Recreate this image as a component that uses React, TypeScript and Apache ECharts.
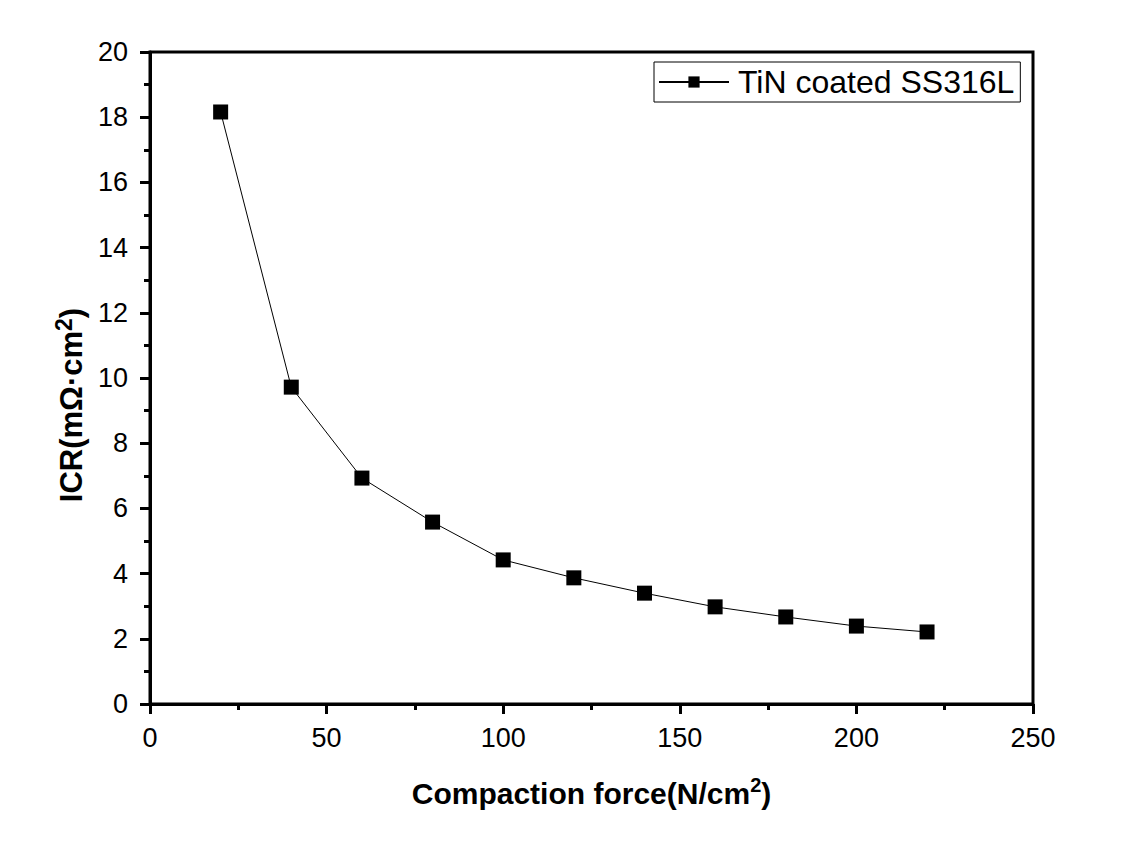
import React, { useEffect, useRef } from "react";
import * as echarts from "echarts";

const forces = [20, 40, 60, 80, 100, 120, 140, 160, 180, 200, 220];
const icr = [18.16, 9.72, 6.93, 5.58, 4.42, 3.87, 3.4, 2.98, 2.67, 2.39, 2.21];
const seriesName = "TiN coated SS316L";

export default function App() {
  const ref = useRef<HTMLDivElement>(null);
  useEffect(() => {
    const chart = echarts.init(ref.current!, null, { renderer: "svg" });
    const font = "Arial, 'Liberation Sans', sans-serif";
    const xRich = {
      a: { fontFamily: font, fontSize: 30, fontWeight: "bold", color: "#000", lineHeight: 36 },
      s: { fontFamily: font, fontSize: 20, fontWeight: "bold", color: "#000", verticalAlign: "top", lineHeight: 36 },
    };
    const yRich = {
      a: { fontFamily: font, fontSize: 31, fontWeight: "bold", color: "#000", lineHeight: 38 },
      s: { fontFamily: font, fontSize: 23, fontWeight: "bold", color: "#000", verticalAlign: "top", lineHeight: 38 },
    };
    chart.setOption({
      animation: false,
      backgroundColor: "#fff",
      grid: {
        left: 150,
        right: 99,
        top: 52,
        bottom: 153,
        show: true,
        borderColor: "#000",
        borderWidth: 3,
        containLabel: false,
      },
      legend: {
        left: 654,
        top: 62,
        orient: "vertical",
        borderColor: "#000",
        borderWidth: 1,
        padding: [4, 6, 4, 4],
        itemWidth: 70,
        itemHeight: 14,
        itemGap: 0,
        textStyle: { fontFamily: font, fontSize: 32, color: "#000", padding: [0, 0, 0, 4] },
        data: [{ name: seriesName }],
      },
      xAxis: {
        type: "value",
        min: 0,
        max: 250,
        interval: 50,
        name: "{a|Compaction force(N/cm}{s|2}{a|)}",
        nameLocation: "middle",
        nameGap: 71,
        nameTextStyle: { rich: xRich },
        axisLine: { show: true, lineStyle: { color: "#000", width: 3 } },
        axisTick: { show: true, inside: false, length: 10, lineStyle: { color: "#000", width: 3 } },
        minorTick: { show: true, splitNumber: 2, length: 6, lineStyle: { color: "#000", width: 3 } },
        axisLabel: { fontFamily: font, fontSize: 27, color: "#000", margin: 20 },
        splitLine: { show: false },
      },
      yAxis: {
        type: "value",
        min: 0,
        max: 20,
        interval: 2,
        name: "{a|ICR(mΩ·cm}{s|2}{a|)}",
        nameLocation: "middle",
        nameGap: 45,
        nameRotate: 90,
        nameTextStyle: { rich: yRich, padding: [0, 54, 0, 0] },
        axisLine: { show: true, lineStyle: { color: "#000", width: 3 } },
        axisTick: { show: true, inside: false, length: 10, lineStyle: { color: "#000", width: 3 } },
        minorTick: { show: true, splitNumber: 2, length: 6, lineStyle: { color: "#000", width: 3 } },
        axisLabel: { fontFamily: font, fontSize: 27, color: "#000", margin: 22 },
        splitLine: { show: false },
      },
      series: [
        {
          name: seriesName,
          type: "line",
          data: forces.map((f, i) => [f, icr[i]]),
          symbol: "rect",
          symbolSize: 15,
          itemStyle: { color: "#000" },
          lineStyle: { color: "#000", width: 1 },
        },
      ],
    });
    return () => chart.dispose();
  }, []);
  return <div ref={ref} style={{ width: 1132, height: 857, position: "absolute", left: 0, top: 0 }} />;
}
